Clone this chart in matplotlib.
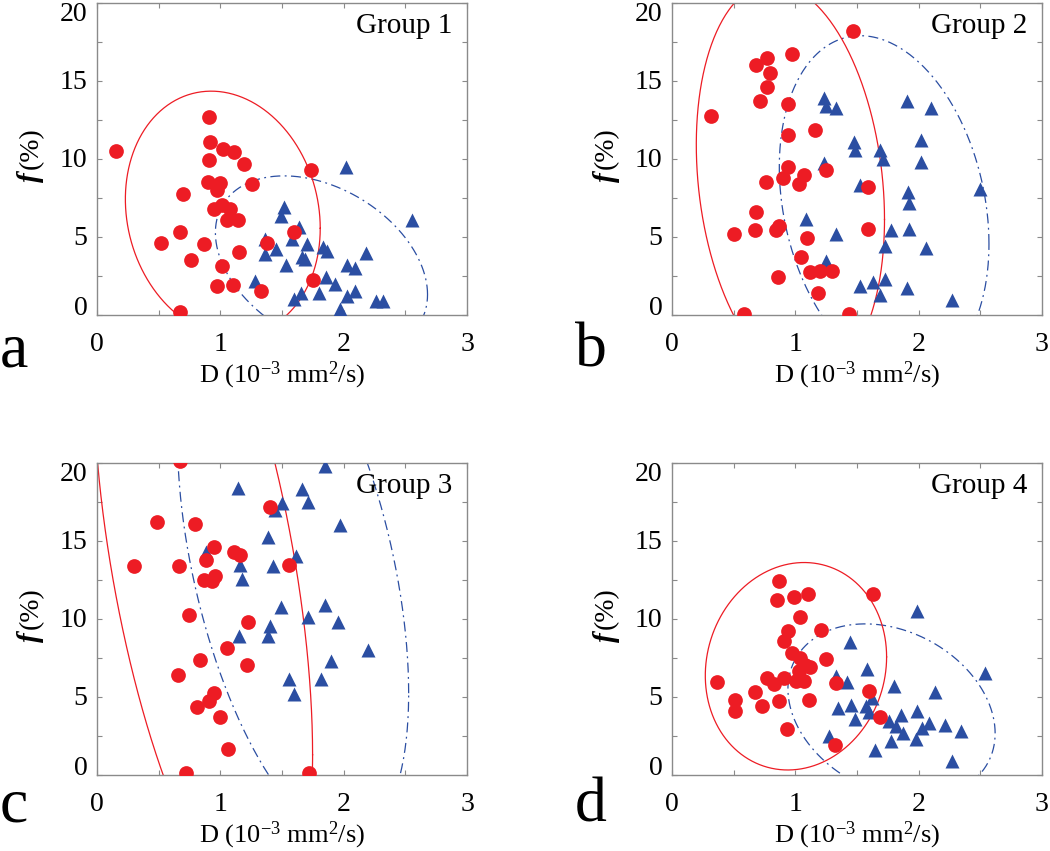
import numpy as np
import matplotlib
matplotlib.use("Agg")
import matplotlib.pyplot as plt
from matplotlib.ticker import MultipleLocator, FixedLocator
from matplotlib.transforms import offset_copy

plt.rcParams['font.family'] = ['Liberation Serif', 'DejaVu Serif']
plt.rcParams['mathtext.fontset'] = 'custom'
plt.rcParams['mathtext.rm'] = 'Liberation Serif'
plt.rcParams['mathtext.it'] = 'Liberation Serif:italic'
plt.rcParams['mathtext.bf'] = 'Liberation Serif:bold'

# ---------------- data ----------------
groups = ["Group 1", "Group 2", "Group 3", "Group 4"]
panel_letters = ["a", "b", "c", "d"]
xtick_values = [0, 1, 2, 3]
ytick_values = [0, 5, 10, 15, 20]

g1_red_D = [0.157, 0.91, 0.92, 1.02, 1.11, 1.19, 0.91, 1.735, 0.90, 1.00, 0.97, 1.26, 0.695, 0.946,
            1.01, 1.076, 1.054, 1.14, 0.676, 1.595, 0.52, 0.865, 1.38, 1.15, 0.765, 1.01, 0.97, 1.10,
            1.75, 1.33, 0.676]
g1_red_f = [10.5, 12.7, 11.08, 10.6, 10.44, 9.69, 9.9, 9.3, 8.5, 8.45, 7.97, 8.4, 7.72, 6.8,
            7.0, 6.8, 6.05, 6.09, 5.3, 5.3, 4.59, 4.54, 4.59, 4.0, 3.5, 3.1, 1.82, 1.9,
            2.19, 1.5, 0.15]
g1_blue_D = [2.02, 1.52, 1.49, 1.64, 2.55, 1.365, 1.58, 1.70, 1.45, 1.36, 1.83, 1.865, 2.18, 1.66,
             1.69, 1.535, 2.03, 2.09, 1.86, 1.93, 1.28, 1.65, 1.60, 1.80, 2.09, 2.03, 2.26, 2.32, 1.97]
g1_blue_f = [9.47, 6.9, 6.3, 5.6, 6.05, 4.87, 4.87, 4.54, 4.22, 3.86, 4.33, 4.1, 3.94, 3.69,
             3.58, 3.15, 3.15, 3.0, 2.4, 1.97, 2.14, 1.37, 1.0, 1.37, 1.48, 1.18, 0.86, 0.86, 0.36]

g2_red_D = [1.468, 0.973, 0.77, 0.684, 0.797, 0.77, 0.716, 0.94, 0.319, 1.162, 0.938, 0.94, 1.25,
            0.90, 1.07, 1.03, 0.762, 1.586, 0.68, 0.676, 0.505, 0.865, 0.846, 1.586, 1.095, 1.046,
            0.857, 1.12, 1.20, 1.297, 1.18, 0.586, 1.438]
g2_red_f = [18.22, 16.72, 16.44, 16.0, 15.52, 14.62, 13.7, 13.5, 12.73, 11.83, 11.5, 9.47, 9.3,
            8.77, 8.94, 8.4, 8.5, 8.19, 6.58, 5.4, 5.19, 5.68, 5.4, 5.5, 4.91, 3.69,
            2.4, 2.72, 2.79, 2.79, 1.39, 0.04, 0.04]
g2_blue_D = [1.235, 1.25, 1.33, 1.905, 2.10, 1.478, 1.486, 2.02, 1.69, 1.71, 1.23, 2.02, 1.527, 2.495,
             1.914, 1.92, 1.09, 1.776, 1.92, 1.33, 1.724, 2.06, 1.25, 1.73, 1.63, 1.527, 1.905, 1.684, 2.27]
g2_blue_f = [13.87, 13.38, 13.29, 13.72, 13.23, 11.08, 10.59, 11.19, 10.55, 10.0, 9.75, 9.8, 8.3, 8.08,
             7.87, 7.18, 6.15, 5.4, 5.5, 5.19, 4.37, 4.27, 3.41, 2.29, 2.08, 1.86, 1.71, 1.22, 0.9]

g3_red_D = [0.676, 1.40, 0.49, 0.797, 0.946, 1.108, 1.157, 0.884, 0.297, 0.662, 1.557, 0.96, 0.865,
            0.932, 0.749, 1.227, 1.054, 0.832, 1.216, 0.654, 0.951, 0.905, 0.81, 0.995, 1.062, 0.724, 1.72]
g3_red_f = [20.15, 17.2, 16.2, 16.1, 14.59, 14.29, 14.07, 13.8, 13.41, 13.41, 13.48, 12.73, 12.51,
            12.4, 10.27, 9.8, 8.13, 7.32, 7.02, 6.42, 5.24, 4.71, 4.32, 3.7, 1.65, 0.1, 0.1]
g3_blue_D = [1.85, 1.14, 1.66, 1.71, 1.50, 1.44, 1.97, 1.39, 1.61, 1.16, 1.43, 1.175, 0.88, 1.49,
             1.85, 1.71, 1.95, 1.405, 1.15, 1.39, 2.20, 1.90, 1.554, 1.82, 1.595]
g3_blue_f = [19.8, 18.4, 18.33, 17.5, 17.4, 16.96, 16.0, 15.23, 14.0, 13.48, 13.37, 12.58, 14.3, 10.74,
             10.9, 10.1, 9.8, 9.56, 8.88, 8.88, 7.98, 7.27, 6.16, 6.16, 5.18]

g4_red_D = [0.87, 0.85, 0.986, 1.103, 1.627, 1.035, 1.21, 0.94, 0.905, 0.973, 1.04, 1.08, 1.12, 1.249,
            1.027, 1.005, 1.073, 0.905, 0.77, 0.824, 0.365, 1.33, 0.676, 1.595, 0.514, 0.865, 1.108,
            0.508, 0.73, 1.69, 0.932, 1.324]
g4_red_f = [12.45, 11.23, 11.38, 11.59, 11.59, 10.1, 9.3, 9.2, 8.6, 7.8, 7.49, 7.06, 6.89, 7.42,
            6.63, 5.99, 5.99, 6.2, 6.2, 5.78, 5.93, 5.88, 5.3, 5.35, 4.81, 4.71, 4.81,
            4.06, 4.39, 3.7, 2.95, 1.88]
g4_blue_D = [1.986, 1.446, 1.58, 2.535, 1.42, 1.33, 1.797, 2.13, 1.62, 1.454, 1.573, 1.343, 1.595, 1.986,
             1.486, 1.757, 1.86, 1.816, 2.08, 2.03, 2.21, 1.873, 2.346, 1.276, 1.98, 1.776, 1.643, 2.27]
g4_blue_f = [10.48, 8.49, 6.8, 6.52, 5.95, 6.3, 5.71, 5.28, 4.92, 4.49, 4.38, 4.28, 4.02, 4.1,
             3.59, 3.42, 3.79, 3.1, 3.32, 2.99, 3.21, 2.67, 2.78, 2.46, 2.25, 2.14, 1.6, 0.86]

# ellipse parameters: (centre D, centre f, sd D, sd f, correlation)
ell_red = [(1.02, 6.47, 0.79, 7.87, -0.119),
           (0.96, 8.50, 0.763, 12.76, -0.188),
           (0.86, 13.46, 0.888, 22.79, -0.535),
           (1.005, 6.95, 0.735, 6.66, 0.09)]
ell_blue = [(1.82, 3.27, 0.86, 5.63, -0.353),
            (1.72, 7.00, 0.85, 10.9, -0.227),
            (1.59, 13.37, 0.937, 17.49, -0.466),
            (1.78, 4.07, 0.84, 5.60, -0.255)]

reds = [(g1_red_D, g1_red_f), (g2_red_D, g2_red_f), (g3_red_D, g3_red_f), (g4_red_D, g4_red_f)]
blues = [(g1_blue_D, g1_blue_f), (g2_blue_D, g2_blue_f), (g3_blue_D, g3_blue_f), (g4_blue_D, g4_blue_f)]

RED = '#ED1C24'
BLUE = '#2B4EA2'
GRAY = '#8A8A8A'


def ellipse_curve(p, n=400):
    cx, cy, sx, sy, rho = p
    t = np.linspace(0, 2 * np.pi, n)
    x = cx + sx * np.cos(t)
    y = cy + sy * (rho * np.cos(t) + np.sqrt(1 - rho ** 2) * np.sin(t))
    return x, y


fig = plt.figure(figsize=(10.5, 8.51), dpi=100)

W, H = 1050.0, 851.0
boxes = [(97, 3), (672, 3), (97, 463), (672, 463)]
aw, ah = 370, 311.5
letter_pos = [(0, 367), (575, 367), (0, 822), (575, 822)]
TICKFS = 20

for i in range(4):
    lx, ty = boxes[i]
    ax = fig.add_axes([lx / W, 1 - (ty + ah) / H, aw / W, ah / H])
    bD, bf = blues[i]
    rD, rf = reds[i]
    ex, ey = ellipse_curve(ell_blue[i])
    ax.plot(ex, ey, color=BLUE, lw=0.9, linestyle=(0, (8, 3.5, 1.5, 3.5)), zorder=2)
    ex, ey = ellipse_curve(ell_red[i])
    ax.plot(ex, ey, color=RED, lw=0.9, linestyle='-', zorder=2)
    ax.plot(bD, bf, linestyle='none', marker='^', ms=9.6, mfc=BLUE, mec='none', zorder=3)
    ax.plot(rD, rf, linestyle='none', marker='o', ms=10.6, mfc=RED, mec='none', zorder=4)

    ax.set_xlim(0, 3)
    ax.set_ylim(0, 20)
    ax.xaxis.set_major_locator(FixedLocator(xtick_values))
    ax.xaxis.set_minor_locator(MultipleLocator(0.5))
    ax.yaxis.set_major_locator(FixedLocator(ytick_values))
    ax.yaxis.set_minor_locator(MultipleLocator(2.5))
    ax.tick_params(which='both', direction='in', top=True, right=True, color=GRAY,
                   length=3.5, width=0.8, labelsize=TICKFS, labelleft=False)
    ax.tick_params(axis='x', which='major', pad=12.5)
    for s in ax.spines.values():
        s.set_color(GRAY)
        s.set_linewidth(1.0)

    # y tick labels (end labels nudged inward as in the reference)
    ytr = ax.get_yaxis_transform()
    for v in ytick_values:
        dy = 0.0
        if v == ytick_values[-1]:
            dy = -7.0
        elif v == ytick_values[0]:
            dy = 5.5
        tr = offset_copy(ytr, fig=fig, x=-7.0, y=dy - 1.0, units='points')
        ax.text(0, v, str(v), transform=tr, ha='right', va='center', fontsize=TICKFS)

    ax.set_xlabel('D (10$^{-3}$ mm$^{2}$/s)', fontsize=19, labelpad=2)

    # y label: bold-italic f followed by (%), rotated
    ylx = -66 / aw
    yly = 1 - (171 - 3) / ah
    ax.text(ylx, yly - 0.005, 'f', transform=ax.transAxes, rotation=90, ha='center', va='top',
            fontsize=21, fontweight='bold', fontstyle='italic')
    ax.text(ylx, yly + 0.005, '(%)', transform=ax.transAxes, rotation=90, ha='center',
            va='bottom', fontsize=20)

    ax.text(355 / aw, 1 - 30 / ah, groups[i], transform=ax.transAxes, ha='right', va='baseline',
            fontsize=21)

    px, py = letter_pos[i]
    fig.text(px / W, 1 - py / H, panel_letters[i], fontsize=46, ha='left', va='baseline')

fig.savefig('out.png', dpi=100)
